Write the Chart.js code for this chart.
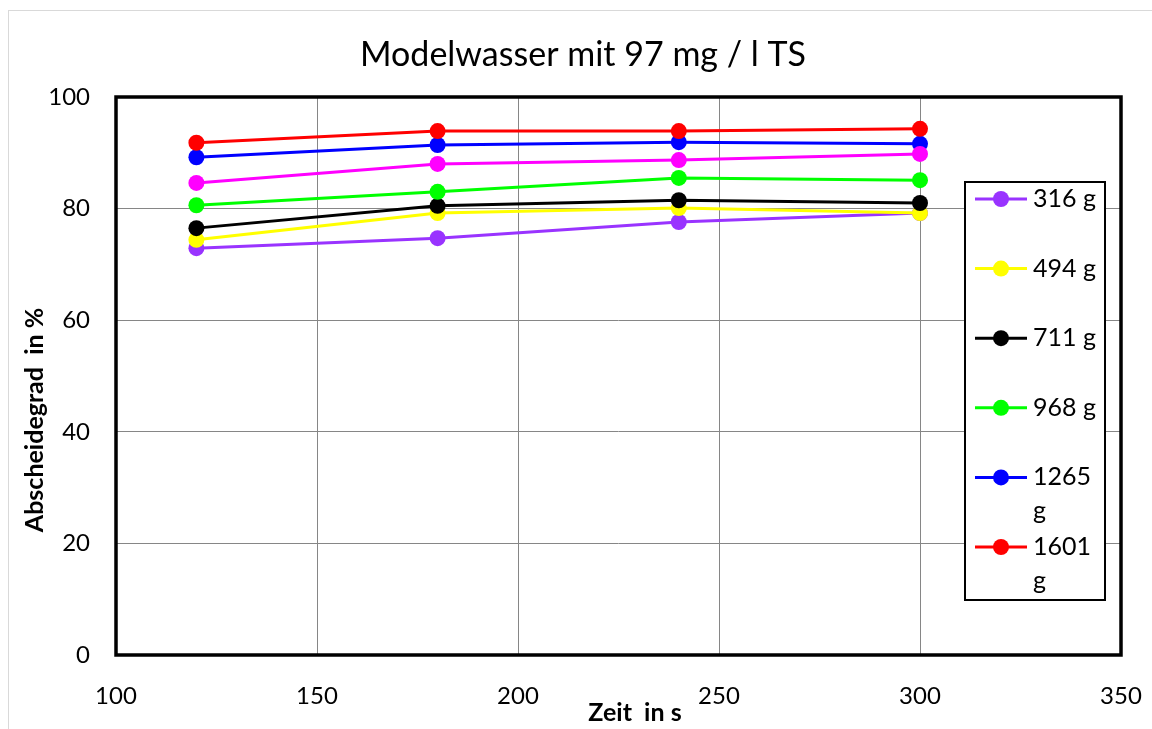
<!DOCTYPE html>
<html>
<head>
<meta charset="utf-8">
<script src="https://cdn.jsdelivr.net/npm/chart.js@4/dist/chart.umd.min.js"></script>
<style>
  html, body { margin: 0; padding: 0; background: #fff; }
  canvas { display: block; }
</style>
</head>
<body>
<canvas id="chart" width="1152" height="729"></canvas>
<script>
const zeit = [120, 180, 240, 300];
const seriesLabels = ['316 g', '494 g', '711 g', '968 g', '1265 g', '1601 g', ''];
const seriesColors = ['#9933ff', '#ffff00', '#000000', '#00ff00', '#0000ff', '#ff0000', '#ff00ff'];

const s316 = [72.9, 74.7, 77.6, 79.2];
const s494 = [74.4, 79.2, 80.1, 79.2];
const s711 = [76.5, 80.5, 81.5, 81.0];
const s968 = [80.6, 83.0, 85.5, 85.1];
const s1265 = [89.2, 91.4, 91.9, 91.6];
const s1601 = [91.8, 93.9, 93.9, 94.3];
const sExtra = [84.6, 88.0, 88.7, 89.8];

const allSeries = [s316, s494, s711, s968, s1265, s1601, sExtra];

const yTicks = [0, 20, 40, 60, 80, 100];
const xTicks = [100, 150, 200, 250, 300, 350];

const chartTitle = 'Modelwasser mit 97 mg / l TS';
const xTitle = 'Zeit  in s';
const yTitle = 'Abscheidegrad  in %';

const FONT = 'Lato, "Open Sans", sans-serif';

const datasets = allSeries.map((vals, i) => ({
    label: seriesLabels[i],
    data: vals.map((v, j) => ({ x: zeit[j], y: v })),
    borderColor: seriesColors[i],
    backgroundColor: seriesColors[i],
    pointBackgroundColor: seriesColors[i],
    pointBorderColor: seriesColors[i],
    pointRadius: 8,
    pointBorderWidth: 0,
    borderWidth: 3,
    tension: 0,
    order: allSeries.length - i
}));

// white page with the thin grey chart frame
const background = {
    id: 'background',
    beforeDraw(chart) {
        const ctx = chart.ctx;
        ctx.save();
        ctx.fillStyle = '#fff';
        ctx.fillRect(0, 0, chart.width, chart.height);
        ctx.strokeStyle = '#d9d9d9';
        ctx.lineWidth = 1;
        ctx.strokeRect(8.5, 10.5, chart.width + 20, chart.height + 20);
        ctx.restore();
    }
};

// thick black box round the plot area
const plotFrame = {
    id: 'plotFrame',
    beforeDatasetsDraw(chart) {
        const { ctx, chartArea: a } = chart;
        ctx.save();
        ctx.strokeStyle = '#000';
        ctx.lineWidth = 3.5;
        ctx.strokeRect(a.left, a.top, a.right - a.left, a.bottom - a.top);
        ctx.restore();
    }
};

// titles sit a bit off-centre in the original, so place them by hand
const titles = {
    id: 'titles',
    afterDraw(chart) {
        const ctx = chart.ctx;
        ctx.save();
        ctx.fillStyle = '#000';
        ctx.textAlign = 'center';
        ctx.textBaseline = 'middle';
        ctx.font = '34px ' + FONT;
        ctx.fillText(chartTitle, 583, 55);
        ctx.font = 'bold 25px ' + FONT;
        ctx.fillText(xTitle, 635, 713);
        ctx.translate(35, 420);
        ctx.rotate(-Math.PI / 2);
        ctx.fillText(yTitle, 0, 0);
        ctx.restore();
    }
};

// legend box inside the plot, like the spreadsheet one
const boxLegend = {
    id: 'boxLegend',
    afterDraw(chart) {
        const ctx = chart.ctx;
        const bx = 965, by = 182, bw = 140, bh = 418;
        ctx.save();
        ctx.fillStyle = '#fff';
        ctx.fillRect(bx, by, bw, bh);
        ctx.strokeStyle = '#000';
        ctx.lineWidth = 2;
        ctx.strokeRect(bx, by, bw, bh);

        ctx.font = '25px ' + FONT;
        ctx.textBaseline = 'middle';
        ctx.textAlign = 'left';
        const textX = 1033;
        const maxW = bx + bw - textX - 2;
        chart.data.datasets.forEach((ds, i) => {
            if (!ds.label) return;
            const cy = 199 + i * 69.6;
            ctx.strokeStyle = ds.borderColor;
            ctx.lineWidth = 3;
            ctx.beginPath();
            ctx.moveTo(975, cy);
            ctx.lineTo(1027, cy);
            ctx.stroke();
            ctx.fillStyle = ds.borderColor;
            ctx.beginPath();
            ctx.arc(1001, cy, 8, 0, Math.PI * 2);
            ctx.fill();

            ctx.fillStyle = '#000';
            let lines = [ds.label];
            if (ctx.measureText(ds.label).width > maxW) {
                lines = ds.label.split(' ');
            }
            lines.forEach((t, k) => ctx.fillText(t, textX, cy + k * 34));
        });
        ctx.restore();
    }
};

new Chart(document.getElementById('chart'), {
    type: 'line',
    data: { datasets },
    plugins: [background, plotFrame, titles, boxLegend],
    options: {
        responsive: false,
        animation: false,
        layout: { padding: { left: 0, right: 31, top: 97, bottom: 0 } },
        plugins: {
            legend: { display: false },
            tooltip: { enabled: false },
            title: { display: false }
        },
        scales: {
            x: {
                type: 'linear',
                min: 100,
                max: 350,
                afterBuildTicks(scale) { scale.ticks = xTicks.map(v => ({ value: v })); },
                afterFit(scale) {
                    scale.height = 74;
                    scale.paddingLeft = 0;
                    scale.paddingRight = 0;
                },
                grid: { color: '#868686', lineWidth: 1, drawTicks: false },
                border: { display: false },
                ticks: { color: '#000', padding: 27, font: { family: FONT, size: 24 } }
            },
            y: {
                min: 0,
                max: 100,
                afterBuildTicks(scale) { scale.ticks = yTicks.map(v => ({ value: v })); },
                afterFit(scale) { scale.width = 116; },
                grid: { color: '#868686', lineWidth: 1, drawTicks: false },
                border: { display: false },
                ticks: { color: '#000', padding: 26, font: { family: FONT, size: 24 } }
            }
        }
    }
});
</script>
</body>
</html>
